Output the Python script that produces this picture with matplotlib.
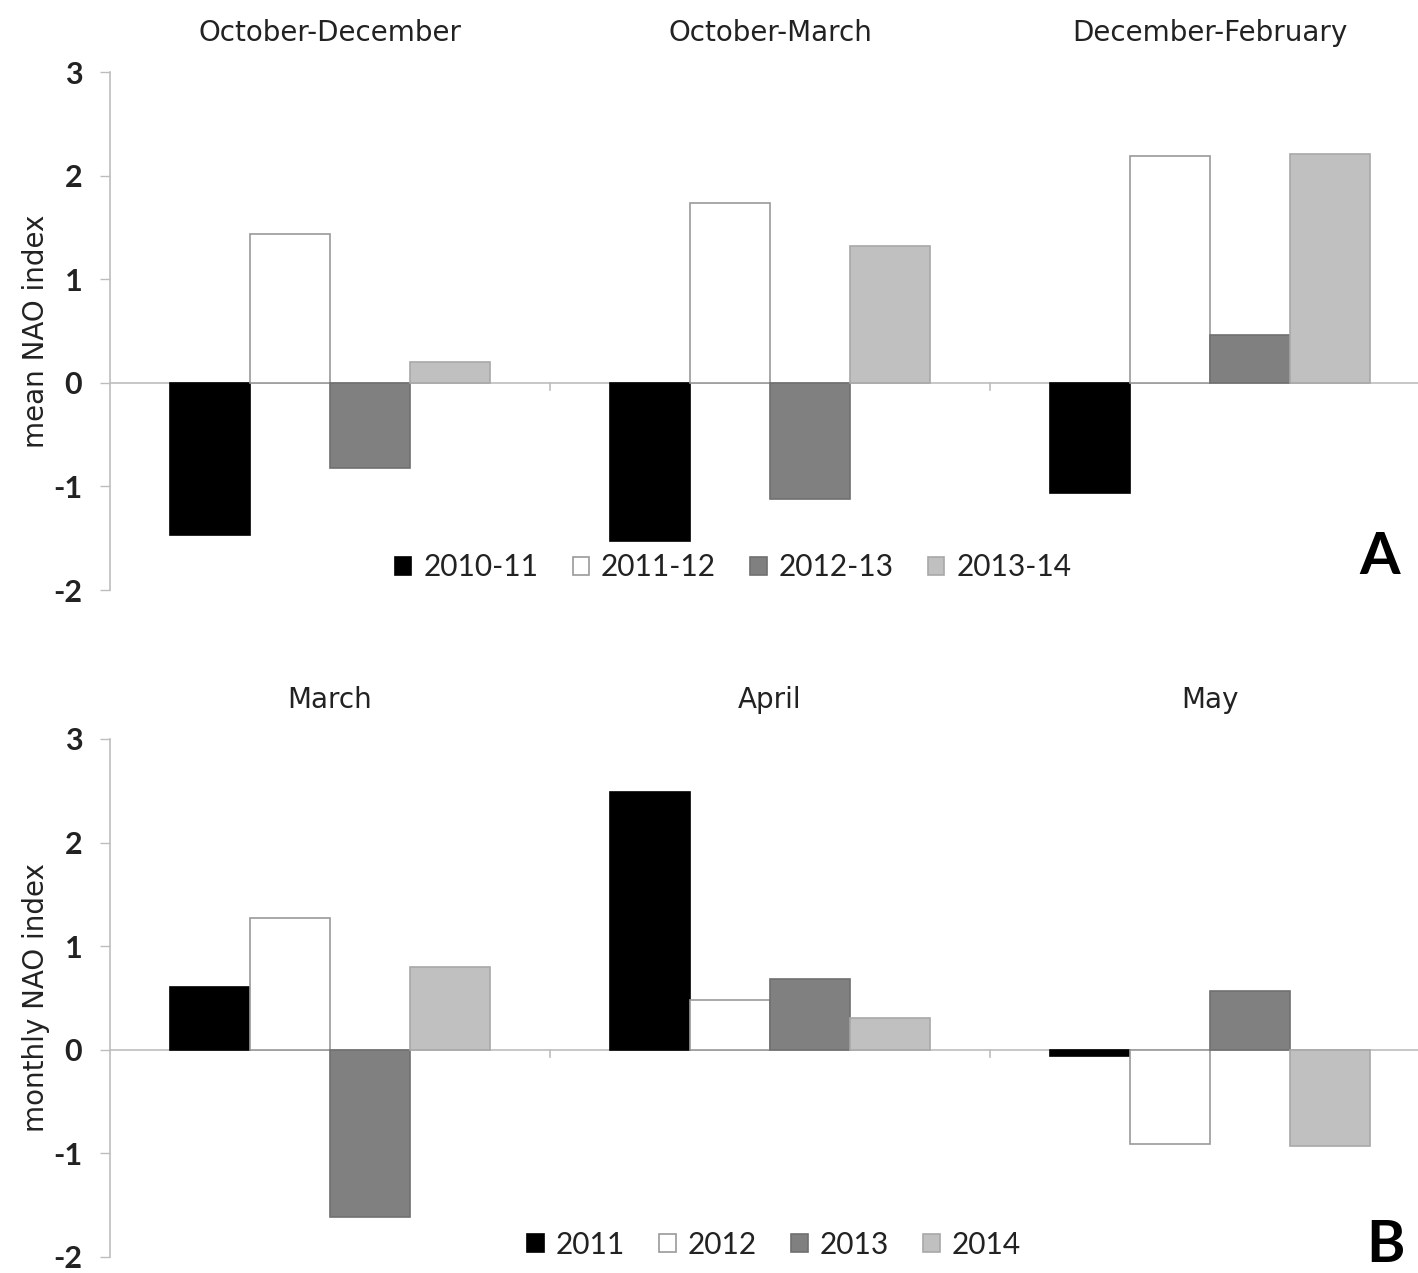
import matplotlib
matplotlib.use("Agg")
import matplotlib.pyplot as plt
import numpy as np

plt.rcParams["axes.unicode_minus"] = False

# Seasonal means (panel A) and monthly values (panel B) of the NAO index
seasons = ["October-December", "October-March", "December-February"]
winters = ["2010-11", "2011-12", "2012-13", "2013-14"]
mean_nao = [
    [-1.47, -1.53, -1.06],   # 2010-11
    [1.44, 1.74, 2.19],      # 2011-12
    [-0.82, -1.12, 0.46],    # 2012-13
    [0.20, 1.32, 2.21],      # 2013-14
]

months = ["March", "April", "May"]
years = ["2011", "2012", "2013", "2014"]
monthly_nao = [
    [0.61, 2.49, -0.06],     # 2011
    [1.27, 0.48, -0.91],     # 2012
    [-1.61, 0.68, 0.57],     # 2013
    [0.80, 0.31, -0.93],     # 2014
]

fills = ["#000000", "#ffffff", "#808080", "#c0c0c0"]
edges = ["#000000", "#9a9a9a", "#707070", "#a8a8a8"]
axis_grey = "#bdbdbd"
text_col = "#222222"
lato = ["Lato", "DejaVu Sans"]


def draw_panel(ax, cats, series_names, values, ylabel, letter, leg_xy, letter_xy):
    x = np.arange(len(cats))
    w = 0.182
    for i, (name, vals) in enumerate(zip(series_names, values)):
        ax.bar(x + (i - 1.5) * w, vals, width=w, color=fills[i],
               edgecolor=edges[i], linewidth=1.2, label=name, zorder=2)

    ax.set_xlim(-0.5, len(cats) - 0.5)
    ax.set_ylim(-2, 3)
    ax.set_yticks(range(-2, 4))
    ax.tick_params(axis="y", length=7, color=axis_grey, labelsize=22,
                   pad=13, width=1)
    for lab in ax.get_yticklabels():
        lab.set_fontweight("bold")
        lab.set_family(lato)
        lab.set_color(text_col)

    # category names along the top, category axis along zero
    ax.xaxis.tick_top()
    ax.set_xticks(x)
    ax.set_xticklabels(cats, fontsize=20, color=text_col)
    ax.tick_params(axis="x", length=0, pad=18)
    ax.axhline(0, color=axis_grey, lw=1.2, zorder=1)
    for b in x[1:] - 0.5:
        ax.plot([b, b], [0, -0.07], color=axis_grey, lw=1.2, zorder=1)

    for side in ["top", "right", "bottom"]:
        ax.spines[side].set_visible(False)
    ax.spines["left"].set_color(axis_grey)
    ax.spines["left"].set_linewidth(1.2)

    ax.set_ylabel(ylabel, fontsize=20, color=text_col, labelpad=2)

    leg = ax.legend(loc="center", bbox_to_anchor=leg_xy, ncol=4, frameon=False,
                    handlelength=0.55, handleheight=0.55, handletextpad=0.4,
                    columnspacing=1.15, prop={"family": lato, "size": 21.5})
    for t in leg.get_texts():
        t.set_color(text_col)

    ax.text(*letter_xy, letter, transform=ax.transAxes,
            ha="center", va="center", fontsize=42, fontweight="bold",
            family=lato)


fig = plt.figure(figsize=(14.18, 12.73), dpi=100)
ax_a = fig.add_axes([0.0776, 0.5365, 0.9309, 0.4069])
ax_b = fig.add_axes([0.0776, 0.0126, 0.9309, 0.4069])

draw_panel(ax_a, seasons, winters, mean_nao, "mean NAO index", "A",
           (0.472, 0.044), (0.962, 0.062))
draw_panel(ax_b, months, years, monthly_nao, "monthly NAO index", "B",
           (0.503, 0.023), (0.966, 0.023))

fig.savefig("out.png", dpi=100)
